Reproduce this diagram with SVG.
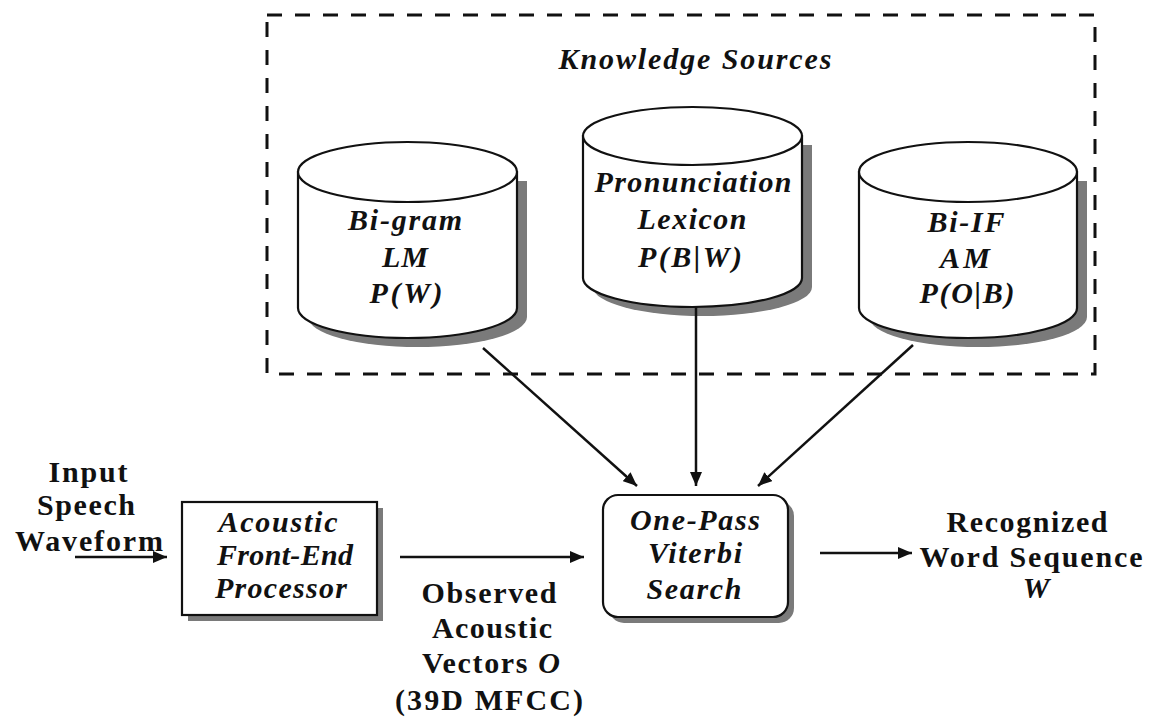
<svg xmlns="http://www.w3.org/2000/svg" width="1151" height="719" viewBox="0 0 1151 719">
<defs>
<style>
.t{font-family:"Liberation Serif","Times New Roman",serif;font-weight:bold;font-size:30px;fill:#111;text-anchor:middle}
.i{font-style:italic}
.edge{stroke:#111;stroke-width:2.5;fill:none}
.shape{fill:#fff;stroke:#111;stroke-width:2.2}
.shadow{fill:#7a7a7a;stroke:none}
</style>
<marker id="ah" markerUnits="userSpaceOnUse" markerWidth="14" markerHeight="12" refX="14" refY="6" orient="auto">
<path d="M0,0 L14,6 L0,12 z" fill="#111"/>
</marker>
</defs>
<rect width="1151" height="719" fill="#fff"/>

<g id="knowledge-sources">
<rect x="267" y="15" width="828" height="359" fill="none" stroke="#111" stroke-width="3" stroke-dasharray="15,13"/>
<text class="t i" x="695" y="69" textLength="273" lengthAdjust="spacing">Knowledge Sources</text>
</g>

<g id="bigram-lm">
<path class="shadow" d="M308,181 L308,317 A109.5,30 0 0 0 527,317 L527,181 Z"/>
<path class="shape" d="M298,172 L298,308 A109.5,30 0 0 0 517,308 L517,172 Z"/>
<ellipse class="shape" cx="407.5" cy="172" rx="109.5" ry="30"/>
<text class="t i" x="405" y="230" textLength="114" lengthAdjust="spacing">Bi-gram</text>
<text class="t i" x="405" y="267" textLength="46" lengthAdjust="spacing">LM</text>
<text class="t i" x="406" y="303" textLength="73" lengthAdjust="spacing">P(W)</text>
</g>

<g id="pronunciation-lexicon">
<path class="shadow" d="M593,145 L593,287 A109.5,29 0 0 0 812,287 L812,145 Z"/>
<path class="shape" d="M583,136 L583,278 A109.5,29 0 0 0 802,278 L802,136 Z"/>
<ellipse class="shape" cx="692.5" cy="136" rx="109.5" ry="29"/>
<text class="t i" x="693" y="192" textLength="197" lengthAdjust="spacing">Pronunciation</text>
<text class="t i" x="692" y="229" textLength="109" lengthAdjust="spacing">Lexicon</text>
<text class="t i" x="690" y="267" textLength="104" lengthAdjust="spacing">P(B|W)</text>
</g>

<g id="biif-am">
<path class="shadow" d="M869,181 L869,317 A109,30 0 0 0 1087,317 L1087,181 Z"/>
<path class="shape" d="M859,172 L859,308 A109,30 0 0 0 1077,308 L1077,172 Z"/>
<ellipse class="shape" cx="968" cy="172" rx="109" ry="30"/>
<text class="t i" x="966" y="232" textLength="77" lengthAdjust="spacing">Bi-IF</text>
<text class="t i" x="965" y="268" textLength="50" lengthAdjust="spacing">AM</text>
<text class="t i" x="967" y="303" textLength="95" lengthAdjust="spacing">P(O|B)</text>
</g>

<g id="input-speech">
<text class="t" x="88" y="482" textLength="79" lengthAdjust="spacing">Input</text>
<text class="t" x="86" y="515" textLength="98" lengthAdjust="spacing">Speech</text>
<text class="t" x="89" y="551" textLength="148" lengthAdjust="spacing">Waveform</text>
</g>

<g id="front-end">
<rect class="shadow" x="188" y="508" width="195" height="113"/>
<rect class="shape" x="182" y="502" width="195" height="113"/>
<text class="t i" x="278" y="532" textLength="119" lengthAdjust="spacing">Acoustic</text>
<text class="t i" x="285" y="565" textLength="136" lengthAdjust="spacing">Front-End</text>
<text class="t i" x="281" y="598" textLength="132" lengthAdjust="spacing">Processor</text>
</g>

<g id="viterbi">
<rect class="shadow" x="609" y="501" width="185" height="122" rx="15"/>
<rect class="shape" x="603" y="495" width="185" height="122" rx="15"/>
<text class="t i" x="695" y="530" textLength="130" lengthAdjust="spacing">One-Pass</text>
<text class="t i" x="695" y="563" textLength="94" lengthAdjust="spacing">Viterbi</text>
<text class="t i" x="694" y="599" textLength="95" lengthAdjust="spacing">Search</text>
</g>

<g id="observed-vectors">
<text class="t" x="489" y="603" textLength="135" lengthAdjust="spacing">Observed</text>
<text class="t" x="492" y="638" textLength="120" lengthAdjust="spacing">Acoustic</text>
<text class="t" x="491" y="673" textLength="138" lengthAdjust="spacing">Vectors <tspan font-style="italic">O</tspan></text>
<text class="t" x="489" y="710" textLength="188" lengthAdjust="spacing">(39D MFCC)</text>
</g>

<g id="recognized">
<text class="t" x="1027" y="532" textLength="161" lengthAdjust="spacing">Recognized</text>
<text class="t" x="1031" y="567" textLength="223" lengthAdjust="spacing">Word Sequence</text>
<text class="t i" x="1036" y="598">W</text>
</g>

<g id="connectors">
<line class="edge" x1="75" y1="557" x2="167" y2="557" marker-end="url(#ah)"/>
<line class="edge" x1="400" y1="557" x2="584" y2="557" marker-end="url(#ah)"/>
<line class="edge" x1="820" y1="553" x2="912" y2="553" marker-end="url(#ah)"/>
<line class="edge" x1="483" y1="348" x2="637" y2="486" marker-end="url(#ah)"/>
<line class="edge" x1="696" y1="307" x2="696" y2="486" marker-end="url(#ah)"/>
<line class="edge" x1="913" y1="345" x2="758" y2="486" marker-end="url(#ah)"/>
</g>
</svg>
